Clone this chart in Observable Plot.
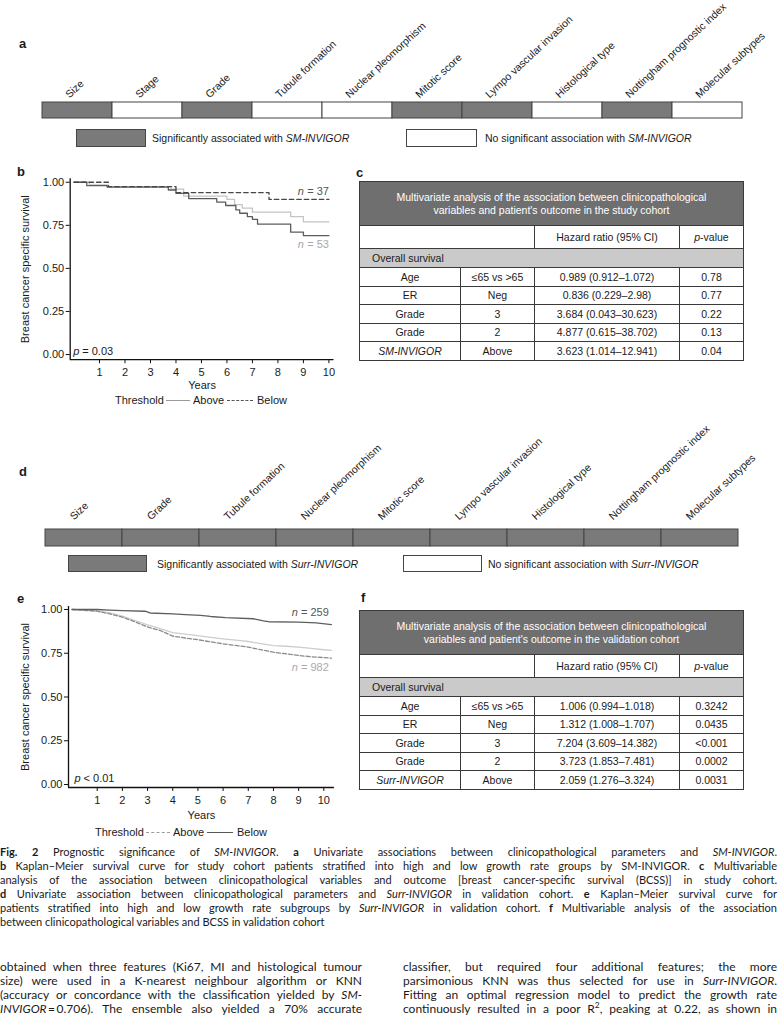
<!DOCTYPE html>
<html><head><meta charset="utf-8">
<script src="https://cdn.jsdelivr.net/npm/d3@7"></script>
<script src="https://cdn.jsdelivr.net/npm/@observablehq/plot@0.6"></script>
<style>
html,body{margin:0;padding:0;background:#fff;}
#page{position:relative;width:778px;height:1019px;overflow:hidden;font-family:"Liberation Sans",Arial,Helvetica,sans-serif;color:#1a1a1a;}
.plab{position:absolute;font-weight:bold;font-size:13px;line-height:13px;}
.box{position:absolute;border:1px solid #454545;box-sizing:border-box;}
.ltxt{position:absolute;font-size:10.5px;line-height:12px;white-space:nowrap;}
table.mv{position:absolute;border-collapse:collapse;table-layout:fixed;width:384px;font-size:10.5px;color:#1a1a1a;}
table.mv td{border:1px solid #3a3a3a;text-align:center;padding:0;line-height:12px;white-space:nowrap;}
table.mv td.head{background:#6f6f6f;color:#fff;height:43px;line-height:12.7px;}
table.mv tr.colh td{height:22px;}
table.mv tr.os td{background:#cacaca;text-align:left;padding-left:12px;height:18px;}
table.mv tr.row td{height:17.5px;}
.cap{position:absolute;left:0;font-family:Lato,"Open Sans",sans-serif;font-size:11px;line-height:14px;color:#1a1a1a;white-space:nowrap;}
.body{position:absolute;font-family:Lato,"Open Sans",sans-serif;font-size:12px;line-height:14px;color:#1a1a1a;white-space:nowrap;}
.kleg{position:absolute;font-size:11px;line-height:12px;white-space:nowrap;}
.kline{position:absolute;height:0;}
</style></head>
<body><div id="page"></div>
<script>
// ---------------- DATA ----------------
const featuresA = ["Size","Stage","Grade","Tubule formation","Nuclear pleomorphism","Mitotic score","Lympo vascular invasion","Histological type","Nottingham prognostic index","Molecular subtypes"];
const significantA = [1,0,1,0,0,1,1,0,1,0];
const featuresD = ["Size","Grade","Tubule formation","Nuclear pleomorphism","Mitotic score","Lympo vascular invasion","Histological type","Nottingham prognostic index","Molecular subtypes"];
const significantD = [1,1,1,1,1,1,1,1,1];

const yearTicks = [1,2,3,4,5,6,7,8,9,10];
const survTicks = [0,0.25,0.5,0.75,1];

// panel b (study cohort)
const bAboveT = [0,0.5,1.3,3.7,4.0,4.5,5.6,5.95,6.35,6.5,6.8,7.0,7.2,8.5,9.0,10];
const bAboveS = [1,0.98,0.972,0.955,0.935,0.905,0.885,0.865,0.84,0.82,0.80,0.785,0.757,0.71,0.69,0.69];
const bBelowT = [0,1.35,4.0,7.65,10];
const bBelowS = [1,0.975,0.94,0.90,0.90];
const bLightT = [0,0.6,1.3,3.8,4.3,6.0,6.3,6.6,7.0,8.5,9.0,10];
const bLightS = [1,0.985,0.975,0.96,0.92,0.90,0.87,0.85,0.826,0.80,0.77,0.77];
const bN = {above: 53, below: 37};
const bP = "= 0.03";

// panel e (validation cohort)
const eBelowT = [0,1,1.5,2,2.9,3.1,4,4.5,5.1,5.5,6.1,7.2,7.6,7.8,9,9.7,10.3];
const eBelowS = [1,1,0.996,0.993,0.99,0.98,0.975,0.971,0.966,0.96,0.954,0.947,0.935,0.93,0.928,0.924,0.914];
const eAboveT = [0,1,1.5,2,2.5,3,3.5,4,4.5,5,5.5,6,6.5,7,7.5,8,8.5,9,9.5,10,10.3];
const eAboveS = [1,0.99,0.975,0.956,0.93,0.90,0.88,0.848,0.837,0.827,0.815,0.804,0.795,0.785,0.77,0.756,0.747,0.737,0.73,0.725,0.722];
const eLightT = [0,1,1.5,2,2.5,3,3.5,4,4.5,5,5.5,6,6.5,7,7.5,8,8.5,9,9.5,10,10.3];
const eLightS = [1,0.992,0.98,0.962,0.937,0.912,0.89,0.868,0.859,0.851,0.841,0.832,0.825,0.817,0.805,0.794,0.79,0.785,0.778,0.77,0.766];
const eN = {above: 982, below: 259};
const eP = "< 0.01";

// tables
const tableVars = ["Age","ER","Grade","Grade"];
const tableLevels = ["\u226465 vs >65","Neg","3","2","Above"];
const cHR = ["0.989 (0.912\u20131.072)","0.836 (0.229\u20132.98)","3.684 (0.043\u201330.623)","4.877 (0.615\u201338.702)","3.623 (1.014\u201312.941)"];
const cP = ["0.78","0.77","0.22","0.13","0.04"];
const fHR = ["1.006 (0.994\u20131.018)","1.312 (1.008\u20131.707)","7.204 (3.609\u201314.382)","3.723 (1.853\u20137.481)","2.059 (1.276\u20133.324)"];
const fP = ["0.3242","0.0435","<0.001","0.0002","0.0031"];

// ---------------- HELPERS ----------------
const FONT = "'Liberation Sans', Arial, Helvetica, sans-serif";
const GRAY = "#7a7a7a";
const page = document.getElementById("page");
function place(el, left, top){ el.style.position="absolute"; el.style.left=left+"px"; el.style.top=top+"px"; page.appendChild(el); return el; }
function div(cls, left, top, html, extra){ const d=document.createElement("div"); d.className=cls; d.innerHTML=html||""; Object.assign(d.style, extra||{}); return place(d,left,top); }

function barPanel(features, sig, top, height, barTop, barBottom, gap, dx){
  const data = features.map((f,i)=>({f, fill: sig[i] ? GRAY : "#ffffff"}));
  const chart = Plot.plot({
    width: 778, height,
    marginLeft: 41, marginRight: 36,
    marginTop: barTop - top, marginBottom: top + height - barBottom,
    x: {type:"band", domain: features, padding: 0, axis: null},
    y: {domain:[0,1], axis: null},
    color: {type: "identity"},
    style: {fontFamily: FONT, fontSize: "10.5px", background: "transparent", overflow: "visible", color:"#1a1a1a"},
    marks: [
      Plot.barY(data, {x:"f", y1:0, y2:1, fill:"fill", stroke:"#454545", strokeWidth:1}),
      Plot.text(data, {x:"f", y:1, text:"f", rotate:-43, textAnchor:"start", lineAnchor:"bottom", dx: dx, dy: -gap, fill:"#1a1a1a", fontSize:10.5})
    ]
  });
  place(chart, 0, top);
}

const pts = (T,S)=>T.map((t,i)=>({t, s:S[i]}));

function kmPanel(c){
  const marks = [
    Plot.ruleY([c.yDomain[0]], {stroke:"#111", strokeWidth:1.3}),
    Plot.ruleX([c.xDomain[0]], {stroke:"#111", strokeWidth:1.3}),
    Plot.axisX({ticks: yearTicks, tickSize: 4, tickPadding: c.tickPad, label: null, stroke:"#111", fill:"#1a1a1a"}),
    Plot.axisY({ticks: survTicks, tickFormat: d3.format(".2f"), tickSize: 4, tickPadding: 2, label: null, stroke:"#111", fill:"#1a1a1a"}),
    Plot.text(["Years"], {frameAnchor:"bottom", textAnchor:"middle", dy: c.yearsDy, fill:"#1a1a1a"}),
    Plot.text(["Breast cancer specific survival"], {frameAnchor:"left", textAnchor:"middle", lineAnchor:"middle", rotate:-90, dx: c.ylabDx, fill:"#1a1a1a"}),
    ...c.curves.map(k => Plot.line(k.data, {x:"t", y:"s", curve: k.curve, stroke: k.color, strokeWidth: 1.3, strokeDasharray: k.dash})),
    ...c.notes
  ];
  const chart = Plot.plot({
    width: c.width, height: c.height,
    marginLeft: c.marginLeft, marginRight: c.marginRight, marginTop: c.marginTop, marginBottom: c.marginBottom,
    x: {domain: c.xDomain, label: null},
    y: {domain: c.yDomain, label: null},
    style: {fontFamily: FONT, fontSize: "11px", background:"transparent", overflow:"visible", color:"#1a1a1a"},
    marks
  });
  place(chart, 0, c.top);
}

function nNote(x, y, value, color, nDx){
  return [
    Plot.text(["= " + value], {x, y, textAnchor:"end", fill: color}),
    Plot.text(["n"], {x, y, dx: nDx, textAnchor:"end", fontStyle:"italic", fill: color})
  ];
}
function pNote(x, y, value){
  return [
    Plot.text(["p"], {x, y, textAnchor:"start", fontStyle:"italic", fill:"#1a1a1a"}),
    Plot.text([value], {x, y, dx: 9, textAnchor:"start", fill:"#1a1a1a"})
  ];
}

function kmLegend(top, items){
  items.forEach(it=>{
    if (it.text) div("kleg", it.x, top-6, it.text);
    else div("kline", it.x, top, "", {width: it.w+"px", borderTop: "1.3px " + (it.dash ? "dashed " : "solid ") + it.color});
  });
}

function mvTable(left, top, title, hr, p, lastLabel){
  const t = document.createElement("table");
  t.className = "mv";
  let h = '<colgroup><col style="width:101px"><col style="width:74px"><col style="width:145px"><col style="width:64px"></colgroup>';
  h += '<tr><td class="head" colspan="4">' + title + '</td></tr>';
  h += '<tr class="colh"><td colspan="2"></td><td>Hazard ratio (95% CI)</td><td><i>p</i>-value</td></tr>';
  h += '<tr class="os"><td colspan="4">Overall survival</td></tr>';
  const labels = tableVars.concat(['<i>' + lastLabel + '</i>']);
  labels.forEach((lab,i)=>{
    h += '<tr class="row"><td>' + lab + '</td><td>' + tableLevels[i] + '</td><td>' + hr[i] + '</td><td>' + p[i] + '</td></tr>';
  });
  t.innerHTML = h;
  place(t, left, top);
}

function justified(cls, left, top, width, html, justify){
  const d = div(cls, left, top, html, {display:"inline-block"});
  if (justify){
    const w = d.getBoundingClientRect().width;
    const n = (d.textContent.match(/ /g)||[]).length;
    if (n) d.style.wordSpacing = ((width - w)/n) + "px";
  }
}

// ---------------- PANEL a ----------------
div("plab", 19, 37, "a");
barPanel(featuresA, significantA, 20, 105, 102, 118, 4, -8);
div("box", 76, 129, "", {width:"70px", height:"18px", background: GRAY});
div("ltxt", 152, 132, "Significantly associated with <i>SM-INVIGOR</i>");
div("box", 406, 129, "", {width:"71px", height:"18px", background:"#fff"});
div("ltxt", 485, 132, "No significant association with <i>SM-INVIGOR</i>");

// ---------------- PANEL b ----------------
div("plab", 17, 165, "b");
kmPanel({
  top: 160, width: 360, height: 235,
  xDomain: [-0.15, 10.2], marginLeft: 69.7, marginRight: 26.5,
  yDomain: [-0.03, 1.02], marginTop: 18.3, marginBottom: 35.8,
  tickPad: 4, yearsDy: 29, ylabDx: -45,
  curves: [
    {data: pts(bLightT, bLightS), curve:"step-after", color:"#c4c4c4"},
    {data: pts(bAboveT, bAboveS), curve:"step-after", color:"#5c5c5c"},
    {data: pts(bBelowT, bBelowS), curve:"step-after", color:"#474747", dash:"4.5,3"}
  ],
  notes: [
    ...nNote(10, 0.945, bN.below, "#555", -25),
    ...nNote(10, 0.638, bN.above, "#a8a8a8", -25),
    ...pNote(-0.03, 0.02, bP)
  ]
});
kmLegend(400, [
  {text:"Threshold", x:115}, {x:166, w:24, color:"#9a9a9a"}, {text:"Above", x:193},
  {x:227, w:26, color:"#555", dash:true}, {text:"Below", x:257}
]);

// ---------------- PANEL c ----------------
div("plab", 356, 166, "c");
mvTable(359, 181, "Multivariate analysis of the association between clinicopathological<br>variables and patient's outcome in the study cohort", cHR, cP, "SM-INVIGOR");

// ---------------- PANEL d ----------------
div("plab", 19, 465, "d");
barPanel(featuresD, significantD, 420, 130, 529, 546, 9, -10);
div("box", 68, 555, "", {width:"79px", height:"17px", background: GRAY});
div("ltxt", 157, 558, "Significantly associated with <i>Surr-INVIGOR</i>");
div("box", 403, 555, "", {width:"79px", height:"17px", background:"#fff"});
div("ltxt", 488, 558, "No significant association with <i>Surr-INVIGOR</i>");

// ---------------- PANEL e ----------------
div("plab", 17, 592, "e");
kmPanel({
  top: 590, width: 360, height: 240,
  xDomain: [-0.14, 10.42], marginLeft: 68, marginRight: 26.1,
  yDomain: [-0.017, 1.017], marginTop: 16, marginBottom: 43,
  tickPad: 4.5, yearsDy: 31, ylabDx: -43,
  curves: [
    {data: pts(eLightT, eLightS), curve:"linear", color:"#cdcdcd"},
    {data: pts(eAboveT, eAboveS), curve:"linear", color:"#8c8c8c", dash:"4,2"},
    {data: pts(eBelowT, eBelowS), curve:"linear", color:"#5e5e5e"}
  ],
  notes: [
    ...nNote(10.2, 0.985, eN.below, "#555", -31),
    ...nNote(10.2, 0.67, eN.above, "#aaaaaa", -31),
    ...pNote(0.1, 0.036, eP)
  ]
});
kmLegend(832, [
  {text:"Threshold", x:95}, {x:146, w:24, color:"#9a9a9a", dash:true}, {text:"Above", x:173},
  {x:207, w:26, color:"#555"}, {text:"Below", x:237}
]);

// ---------------- PANEL f ----------------
div("plab", 361, 591, "f");
mvTable(359, 610, "Multivariate analysis of the association between clinicopathological<br>variables and patient's outcome in the validation cohort", fHR, fP, "Surr-INVIGOR");

// ---------------- CAPTION & BODY ----------------
const captionLines = [
 '<b>Fig. 2</b> Prognostic significance of <i>SM-INVIGOR</i>. <b>a</b> Univariate associations between clinicopathological parameters and <i>SM-INVIGOR</i>.',
 '<b>b</b> Kaplan\u2013Meier survival curve for study cohort patients stratified into high and low growth rate groups by SM-INVIGOR. <b>c</b> Multivariable',
 'analysis of the association between clinicopathological variables and outcome [breast cancer-specific survival (BCSS)] in study cohort.',
 '<b>d</b> Univariate association between clinicopathological parameters and <i>Surr-INVIGOR</i> in validation cohort. <b>e</b> Kaplan\u2013Meier survival curve for',
 'patients stratified into high and low growth rate subgroups by <i>Surr-INVIGOR</i> in validation cohort. <b>f</b> Multivariable analysis of the association',
 'between clinicopathological variables and BCSS in validation cohort'
];
captionLines.forEach((l,i)=>justified("cap", 0, 845 + i*14, 777, l, i < captionLines.length-1));

const bodyLeft = [
 'obtained when three features (Ki67, MI and histological tumour',
 'size) were used in a K-nearest neighbour algorithm or KNN',
 '(accuracy or concordance with the classification yielded by <i>SM-</i>',
 '<i>INVIGOR</i>\u2009=\u20090.706). The ensemble also yielded a 70% accurate'
];
const bodyRight = [
 'classifier, but required four additional features; the more',
 'parsimonious KNN was thus selected for use in <i>Surr-INVIGOR</i>.',
 'Fitting an optimal regression model to predict the growth rate',
 'continuously resulted in a poor R<sup style="font-size:0.7em;line-height:0">2</sup>, peaking at 0.22, as shown in'
];
bodyLeft.forEach((l,i)=>justified("body", 0, 960 + i*14, 362, l, true));
bodyRight.forEach((l,i)=>justified("body", 403, 960 + i*14, 374, l, true));
</script>
</body></html>
